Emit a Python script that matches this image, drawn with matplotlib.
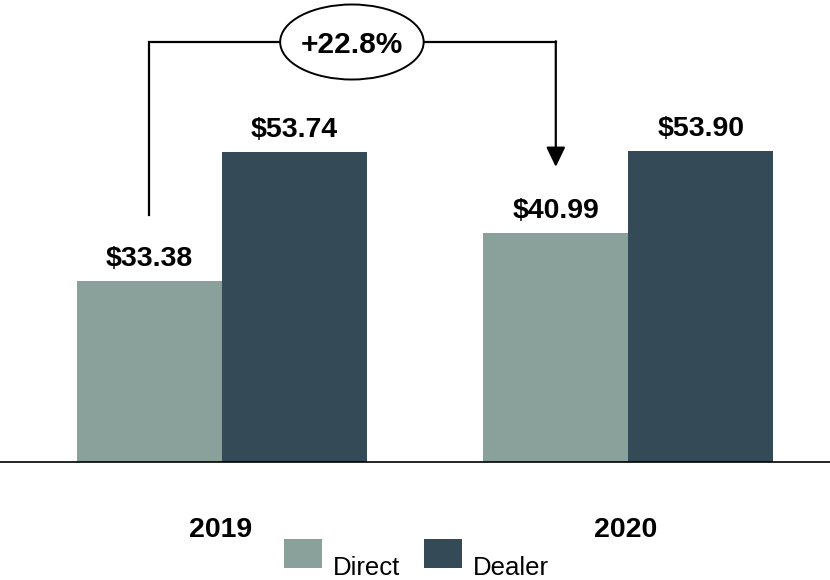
import matplotlib
matplotlib.use("Agg")
import matplotlib.pyplot as plt
from matplotlib.patches import Ellipse, Rectangle
import numpy as np

years = ["2019", "2020"]
direct = [33.38, 40.99]
dealer = [53.74, 53.90]
series_names = ["Direct", "Dealer"]
change_label = "+22.8%"

c_direct = "#8AA19B"
c_dealer = "#354A57"

plt.rcParams['font.family'] = ['Liberation Sans', 'DejaVu Sans']

W, H = 830, 580
fig = plt.figure(figsize=(W / 100, H / 100), dpi=100)
ax = fig.add_axes([0, 1 - 462 / H, 1, 462 / H])

x = np.arange(len(years))
bw = 0.357
ax.bar(x - bw / 2, direct, width=bw, color=c_direct, zorder=2)
ax.bar(x + bw / 2, dealer, width=bw, color=c_dealer, zorder=2)

ax.set_xlim(-0.5456, 1.4960)
ax.set_ylim(4.81, 77.73)

for spine in ["top", "right", "left"]:
    ax.spines[spine].set_visible(False)
ax.spines["bottom"].set_linewidth(1.2)
ax.spines["bottom"].set_color("black")
ax.set_yticks([])
ax.set_xticks([])

for xi, v in zip(x - bw / 2, direct):
    ax.annotate(f"${v:.2f}", (xi, v), xytext=(0, 10.8), textcoords="offset points",
                ha="center", va="baseline", fontsize=20.5, fontweight="bold")
for xi, v in zip(x + bw / 2, dealer):
    ax.annotate(f"${v:.2f}", (xi, v), xytext=(0, 10.8), textcoords="offset points",
                ha="center", va="baseline", fontsize=20.5, fontweight="bold")

# Year labels
for xi, yr in zip(x, years):
    fig.text((222.4 + xi * 405 - 2) / W, 1 - 530 / H, yr, ha="center", va="center",
             fontsize=20.5, fontweight="bold")

# Bracket with growth annotation
top = 71.1
gap = 10.4
x0 = x[0] - bw / 2
x1 = x[1] - bw / 2
ax.plot([x0, x0, x1], [direct[0] + gap, top, top], color="black", lw=1.6,
        solid_joinstyle="miter", zorder=3)
ax.annotate("", xy=(x1, direct[1] + gap), xytext=(x1, top + 0.12),
            arrowprops=dict(arrowstyle="-|>,head_length=1.2,head_width=0.58",
                            mutation_scale=10, color="black", lw=1.6,
                            shrinkA=0, shrinkB=0), zorder=3)
ex = 0.32
ell = Ellipse((ex, top), width=0.353, height=11.84, facecolor="white",
              edgecolor="black", lw=1.4, zorder=4)
ax.add_patch(ell)
ax.text(ex, top - 0.4, change_label, ha="center", va="center", fontsize=21.5,
        fontweight="bold", zorder=5)

# Legend (manual)
legend_items = [(284, c_direct, series_names[0]), (424, c_dealer, series_names[1])]
for px, col, name in legend_items:
    fig.patches.append(Rectangle((px / W, 1 - 568 / H), 38 / W, 29 / H,
                                 transform=fig.transFigure, facecolor=col,
                                 edgecolor="none"))
    fig.text((px + 49) / W, 1 - 575 / H, name, ha="left", va="baseline", fontsize=18.5)

fig.savefig("out.png", dpi=100)
